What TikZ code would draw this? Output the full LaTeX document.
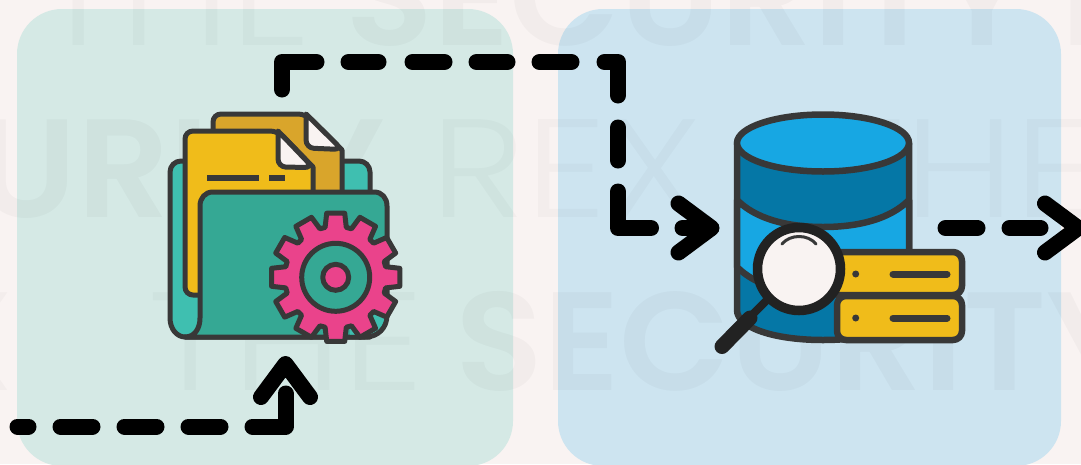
\documentclass[tikz,border=0pt]{standalone}
\usepackage{fontspec}
\usetikzlibrary{arrows.meta}
\newfontfamily\wmlight[FakeStretch=1.16]{Poppins Light}
\newfontfamily\wmbold[FakeStretch=1.03]{Poppins SemiBold}
\definecolor{bgpage}{HTML}{F9F3F2}
\definecolor{panelgreen}{HTML}{D5E9E5}
\definecolor{panelblue}{HTML}{CDE4F0}
\definecolor{ink}{HTML}{383838}
\definecolor{lensink}{HTML}{222222}
\definecolor{docdark}{HTML}{D9A52B}
\definecolor{docyellow}{HTML}{F0BC1A}
\definecolor{tealback}{HTML}{3FBFB0}
\definecolor{tealfront}{HTML}{35A894}
\definecolor{gearpink}{HTML}{EA438B}
\definecolor{dblight}{HTML}{17A7E3}
\definecolor{dbdark}{HTML}{0577A6}
\tikzset{
  panel/.style={rounded corners=45pt,draw=none},
  outline/.style={draw=ink,line width=5pt,line join=round,line cap=round},
  dboutline/.style={draw=ink,line width=6.5pt,line join=round},
  flow/.style={draw=black,line width=16pt,line cap=round,line join=round},
  flowtip/.style={-{Straight Barb[length=33pt,width=49pt,round]}},
  wmthin/.style={font=\fontsize{140}{140}\wmlight\selectfont,text=black,text opacity=.022,inner sep=0pt},
  wmfat/.style={font=\fontsize{140}{140}\wmbold\selectfont,text=black,text opacity=.026,inner sep=0pt},
}
\begin{document}
\begin{tikzpicture}[x=1pt,y=-1pt]
\useasboundingbox (0,0) rectangle (1081,464);
\clip (0,0) rectangle (1081,464);
\fill[bgpage] (0,0) rectangle (1081,464);
\path[panel,fill=panelgreen] (17,9) rectangle (513,466);
\path[panel,fill=panelblue] (558,9) rectangle (1061,466);
% watermark
\node[wmthin,anchor=base west] (w1) at (36,45) {THE};
\node[wmfat,anchor=base west] (w2) at (345,45) {SECURITY};
\node[wmthin,anchor=base west] (w9) at (1034,45) {T};
\node[wmfat,anchor=base east] (w3) at (385,217) {URITY};
\node[wmthin,anchor=base west] (w4) at (430,217) {REX};
\node[wmthin,anchor=base west] (w5) at (820,217) {THE};
\node[wmthin,anchor=base east] (w6) at (15,390) {X};
\node[wmthin,anchor=base west] (w7) at (148,390) {THE};
\node[wmfat,anchor=base west] (w8) at (455,390) {SECURITY};
% folder icon
\path[outline,fill=tealback] (185,337) .. controls (177,337) and (170,329) .. (170,318)
  -- (170,172) [rounded corners=11pt] -- (170,161) -- (370,161) -- (370,215) [sharp corners] -- (370,337) -- cycle;
\path[outline,fill=docdark] (213,200) [rounded corners=8pt] -- (213,114) -- (306,114) [sharp corners] -- (342,150) -- (342,200) -- cycle;
\path[outline,fill=bgpage] (306,114) [rounded corners=8pt] -- (306,148) -- (342,149.5) [sharp corners] -- cycle;
\path[outline,fill=docyellow] (197,295) [rounded corners=8pt] -- (185,295) -- (185,131) -- (278,131) [sharp corners] -- (313,167) -- (313,200) -- (313,295) -- cycle;
\path[outline,fill=bgpage] (278,131) [rounded corners=8pt] -- (278,167) -- (313,167.5) [sharp corners] -- cycle;
\draw[outline,line cap=butt,line width=6pt] (207,178) -- (259,178);
\draw[outline,line cap=butt,line width=6pt] (269,178) -- (285,178);
\path[outline,fill=tealfront] (185,337) .. controls (195,337) and (200,328) .. (200,318)
  -- (200,206) .. controls (200,198) and (205,192) .. (213,192) -- (374,192)
  .. controls (382,192) and (387,198) .. (387,206) -- (387,315)
  .. controls (387,328) and (378,337) .. (365,337) -- cycle;
\fill[tealback] (350,334.5) -- (365,334.5) .. controls (376,334.5) and (384.5,326) .. (384.5,315) -- (350,315) -- cycle;
% gear
\begin{scope}[shift={(335.7,277.3)}]
\path[outline,fill=gearpink]
  (-12:51)
  \foreach \a in {0,30,...,330}{
    -- (\a-12:51) -- (\a-8:64.7) -- (\a+8:64.7) -- (\a+12:51)
  } -- cycle;
\path[outline,fill=tealfront] (0,0) circle[radius=34];
\path[outline,fill=gearpink] (0,0) circle[radius=13];
\end{scope}
% database icon
\coordinate (dbc) at (823,143);
\path[dboutline,fill=dbdark] (737,143) -- (737,310) .. controls (737,328) and (775,340) .. (823,340) .. controls (871,340) and (909,328) .. (909,310) -- (909,143) -- cycle;
\path[dboutline,fill=dblight] (737,200) .. controls (755,218) and (785,227) .. (823,227) .. controls (861,227) and (891,218) .. (909,200) -- (909,267) .. controls (891,285) and (861,294) .. (823,294) .. controls (785,294) and (755,285) .. (737,267) -- cycle;
\path[dboutline,fill=dblight] (dbc) ellipse[x radius=86,y radius=28.5];
% servers
\path[dboutline,fill=docyellow,rounded corners=9pt] (830,252) rectangle (962,295);
\path[dboutline,fill=docyellow,rounded corners=9pt] (837,296) rectangle (962,340);
\fill[ink] (855.7,274) circle[radius=3.5];
\fill[ink] (855.7,318) circle[radius=3.5];
\draw[ink,line width=7pt,line cap=round] (893,274) -- (947,274);
\draw[ink,line width=7pt,line cap=round] (893,318) -- (947,318);
% magnifier
\draw[lensink,line width=8pt] (753,314) -- (768,299);
\draw[lensink,line width=15pt,line cap=round] (722,346.5) -- (750,318);
\draw[lensink,line width=9.5pt,fill=bgpage] (799,269) circle[radius=41.5];
\draw[ink,line width=3pt,line cap=round] (782,244) .. controls (790,234) and (808,234) .. (816,244);
% connectors
\coordinate (a1) at (17.5,426.5);
\coordinate (a2) at (285.5,426.5);
\coordinate (a3) at (285.5,356);
\coordinate (b1) at (282,89.5);
\coordinate (b2) at (282,62);
\coordinate (b3) at (618,62);
\coordinate (b4) at (618,228);
\coordinate (b5) at (719.5,228);
\coordinate (c1) at (945.5,228);
\coordinate (c2) at (1086,228);
\draw[flow,flowtip,dash pattern=on 11pt off 32pt on 32pt off 32pt on 32pt off 32pt on 32pt off 32pt on 66pt off 100pt] (a1) -- (a2) -- (a3);
\draw[flow,flowtip,dash pattern=on 62pt off 32pt on 30pt off 34pt on 32pt off 32pt on 31pt off 32pt on 32pt off 33pt on 47pt off 32pt on 33pt off 31pt on 69.5pt off 31.5pt on 100pt off 10pt] (b1) -- (b2) -- (b3) -- (b4) -- (b5);
\draw[flow,flowtip,dash pattern=on 32pt off 32pt on 31pt off 100pt] (c1) -- (c2);
\end{tikzpicture}
\end{document}
